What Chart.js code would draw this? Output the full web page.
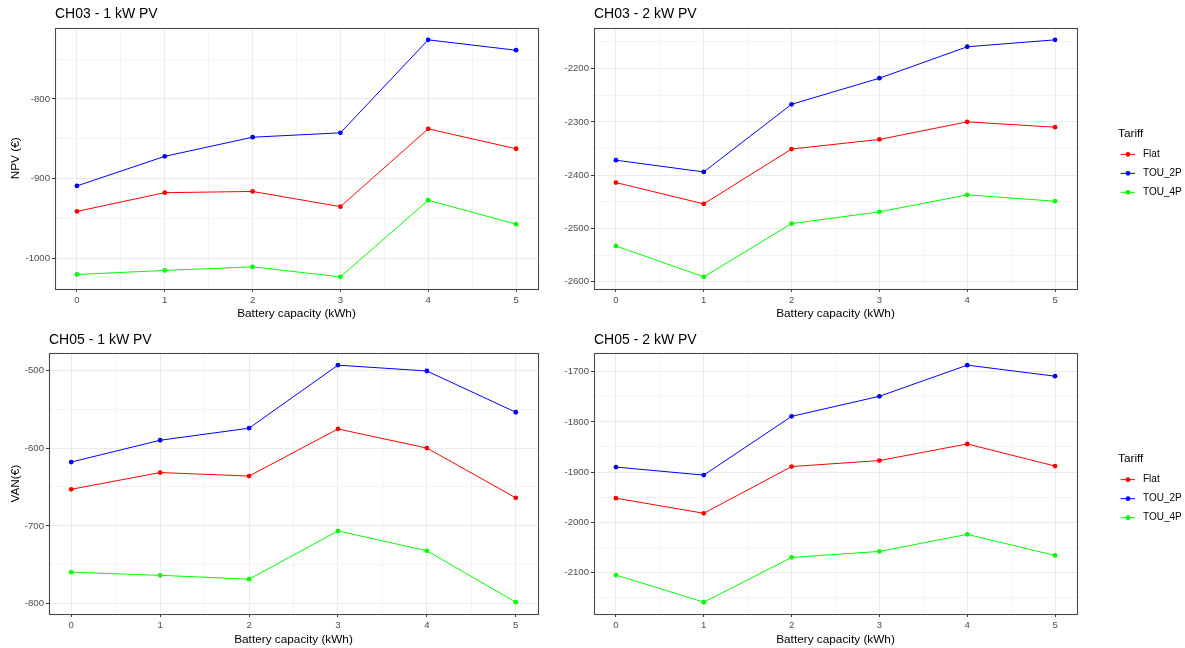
<!DOCTYPE html>
<html>
<head>
<meta charset="utf-8">
<title>Battery capacity vs NPV</title>
<script src="https://cdn.jsdelivr.net/npm/chart.js@4.4.1/dist/chart.umd.min.js"></script>
<style>
  html, body { margin: 0; padding: 0; background: #fff; }
  #wrap { position: relative; width: 1185px; height: 648px; overflow: hidden; }
  canvas { position: absolute; }
</style>
</head>
<body>
<div id="wrap">
  <canvas id="p1" width="545" height="325" style="left:0;top:0"></canvas>
  <canvas id="p2" width="640" height="325" style="left:545px;top:0"></canvas>
  <canvas id="p3" width="545" height="323" style="left:0;top:325px"></canvas>
  <canvas id="p4" width="640" height="323" style="left:545px;top:325px"></canvas>
</div>
<script>
// Shared categories
const batteryKWh = [0, 1, 2, 3, 4, 5];
const xTicks = [0, 1, 2, 3, 4, 5];
const tariffs = ["Flat", "TOU_2P", "TOU_4P"];
const tariffColors = ["#FF0000", "#0000FF", "#00FF00"];

// CH03 - 1 kW PV
const ch03pv1Flat = [-941, -917.5, -916, -935, -837.5, -862.5];
const ch03pv1Tou2p = [-909, -872, -848, -842.5, -726, -739];
const ch03pv1Tou4p = [-1020, -1015, -1010.5, -1023, -927, -957];
const ch03pv1Ticks = [-1000, -900, -800];

// CH03 - 2 kW PV
const ch03pv2Flat = [-2414, -2454, -2351, -2333, -2300, -2310];
const ch03pv2Tou2p = [-2372, -2394, -2267, -2218, -2159, -2146];
const ch03pv2Tou4p = [-2533, -2591, -2491, -2469, -2437, -2449];
const ch03pv2Ticks = [-2600, -2500, -2400, -2300, -2200];

// CH05 - 1 kW PV
const ch05pv1Flat = [-653, -631.5, -636, -575.5, -600, -664];
const ch05pv1Tou2p = [-618, -590, -574.5, -493.5, -501, -554];
const ch05pv1Tou4p = [-759.5, -763.5, -768.5, -706.5, -732, -798];
const ch05pv1Ticks = [-800, -700, -600, -500];

// CH05 - 2 kW PV
const ch05pv2Flat = [-1952, -1982, -1889, -1877, -1844, -1888];
const ch05pv2Tou2p = [-1890, -1906, -1789, -1749, -1687, -1709];
const ch05pv2Tou4p = [-2105, -2159, -2070, -2058, -2024, -2066];
const ch05pv2Ticks = [-2100, -2000, -1900, -1800, -1700];

Chart.defaults.font.family = '"Liberation Sans", Arial, sans-serif';

// ggplot-like 5% expansion of the data range
function expandRange(values, frac) {
  const lo = Math.min(...values), hi = Math.max(...values);
  const pad = (hi - lo) * frac;
  return [lo - pad, hi + pad];
}

// major breaks plus the minor ones halfway between
function withMinors(major, lo, hi) {
  const step = major[1] - major[0];
  const all = [major[0] - step / 2];
  major.forEach(v => all.push(v, v + step / 2));
  return all.filter(v => v >= lo && v <= hi);
}

// dark box around the panel, drawn over the lines like ggplot
const panelBorder = {
  id: "panelBorder",
  afterDatasetsDraw(chart) {
    const { ctx, chartArea: a } = chart;
    ctx.save();
    ctx.strokeStyle = "#4a4a4a";
    ctx.lineWidth = 1.1;
    ctx.strokeRect(Math.round(a.left) + 0.5, Math.round(a.top) + 0.5,
      Math.round(a.right - a.left), Math.round(a.bottom - a.top));
    ctx.restore();
  }
};

// Tariff legend at the right of the panel (line + dot keys)
const tariffLegend = {
  id: "tariffLegend",
  afterDraw(chart) {
    const { ctx, chartArea: a } = chart;
    const midY = (a.top + a.bottom) / 2;
    const x0 = a.right + 41;
    ctx.save();
    ctx.textBaseline = "middle";
    ctx.textAlign = "left";
    ctx.fillStyle = "#000";
    ctx.font = '11.8px "Liberation Sans", Arial, sans-serif';
    ctx.fillText("Tariff", x0, midY - 24.5);
    ctx.font = '10px "Liberation Sans", Arial, sans-serif';
    chart.data.datasets.forEach((ds, i) => {
      const y = midY - 4 + i * 19;
      ctx.strokeStyle = ds.borderColor;
      ctx.lineWidth = 1;
      ctx.beginPath();
      ctx.moveTo(x0 + 2.5, y);
      ctx.lineTo(x0 + 17, y);
      ctx.stroke();
      ctx.fillStyle = ds.borderColor;
      ctx.beginPath();
      ctx.arc(x0 + 10, y, 2.4, 0, Math.PI * 2);
      ctx.fill();
      ctx.fillStyle = "#000";
      ctx.fillText(ds.label, x0 + 25, y);
    });
    ctx.restore();
  }
};

function makePanel(id, cfg) {
  const { title, yTitle, series, yTicks, box, legend } = cfg;
  const [yMin, yMax] = expandRange(series.flat(), 0.05);
  const [xMin, xMax] = expandRange(batteryKWh, 0.05);
  const yAll = withMinors(yTicks, yMin, yMax);
  const xAll = withMinors(xTicks, xMin, xMax);

  const gridColor = majors => ctx => majors.includes(ctx.tick.value) ? "#EBEBEB" : "#F4F4F4";
  const tickColor = majors => ctx => majors.includes(ctx.tick.value) ? "#333333" : "rgba(0,0,0,0)";

  return new Chart(document.getElementById(id), {
    type: "line",
    data: {
      datasets: series.map((s, i) => ({
        label: tariffs[i],
        data: batteryKWh.map((x, j) => ({ x, y: s[j] })),
        borderColor: tariffColors[i],
        backgroundColor: tariffColors[i],
        borderWidth: 1,
        pointRadius: 2.4,
        pointBorderWidth: 0,
        pointBackgroundColor: tariffColors[i],
        tension: 0
      }))
    },
    options: {
      responsive: false,
      animation: false,
      events: [],
      layout: { padding: { left: 0, right: box.padRight, top: 0, bottom: 0 } },
      plugins: {
        legend: { display: false },
        tooltip: { enabled: false },
        title: {
          display: true,
          text: title,
          align: "start",
          fullSize: false,
          color: "#000",
          font: { size: 14, weight: "normal" },
          padding: { top: box.titleTop, bottom: box.top - box.titleTop - 16.8 }
        }
      },
      scales: {
        x: {
          type: "linear",
          min: xMin,
          max: xMax,
          afterBuildTicks: s => { s.ticks = xAll.map(v => ({ value: v })); },
          afterFit: s => { s.height = box.h - box.bottom; },
          ticks: {
            autoSkip: false,
            maxRotation: 0,
            padding: 3,
            color: "#4D4D4D",
            font: { size: 9.6 },
            callback: v => xTicks.includes(v) ? String(v) : ""
          },
          grid: { color: gridColor(xTicks), lineWidth: 1, tickLength: 3, tickColor: tickColor(xTicks) },
          border: { display: false },
          title: {
            display: true,
            text: "Battery capacity (kWh)",
            color: "#000",
            font: { size: 11.8 },
            padding: { top: 0, bottom: box.xTitlePad }
          }
        },
        y: {
          type: "linear",
          min: yMin,
          max: yMax,
          afterBuildTicks: s => { s.ticks = yAll.map(v => ({ value: v })); },
          afterFit: s => { s.width = box.left; },
          ticks: {
            autoSkip: false,
            padding: 2,
            color: "#4D4D4D",
            font: { size: 9.6 },
            callback: v => yTicks.includes(v) ? String(v) : ""
          },
          grid: { color: gridColor(yTicks), lineWidth: 1, tickLength: 3, tickColor: tickColor(yTicks) },
          border: { display: false },
          title: {
            display: !!yTitle,
            text: yTitle || "",
            color: "#000",
            font: { size: 11.8 },
            padding: { top: 9.1, bottom: 0 }
          }
        }
      }
    },
    plugins: legend ? [panelBorder, tariffLegend] : [panelBorder]
  });
}

makePanel("p1", {
  title: "CH03 - 1 kW PV",
  yTitle: "NPV (\u20AC)",
  series: [ch03pv1Flat, ch03pv1Tou2p, ch03pv1Tou4p],
  yTicks: ch03pv1Ticks,
  box: { h: 325, left: 55, top: 28, bottom: 288.7, padRight: 7, titleTop: 6, xTitlePad: 3.9 },
  legend: false
});

makePanel("p2", {
  title: "CH03 - 2 kW PV",
  yTitle: null,
  series: [ch03pv2Flat, ch03pv2Tou2p, ch03pv2Tou4p],
  yTicks: ch03pv2Ticks,
  box: { h: 325, left: 49, top: 28, bottom: 288.7, padRight: 108, titleTop: 6, xTitlePad: 3.9 },
  legend: true
});

makePanel("p3", {
  title: "CH05 - 1 kW PV",
  yTitle: "VAN(\u20AC)",
  series: [ch05pv1Flat, ch05pv1Tou2p, ch05pv1Tou4p],
  yTicks: ch05pv1Ticks,
  box: { h: 323, left: 49, top: 28.3, bottom: 289, padRight: 7, titleTop: 6.5, xTitlePad: 1.6 },
  legend: false
});

makePanel("p4", {
  title: "CH05 - 2 kW PV",
  yTitle: null,
  series: [ch05pv2Flat, ch05pv2Tou2p, ch05pv2Tou4p],
  yTicks: ch05pv2Ticks,
  box: { h: 323, left: 49, top: 28.3, bottom: 289, padRight: 108, titleTop: 6.5, xTitlePad: 1.6 },
  legend: true
});
</script>
</body>
</html>
